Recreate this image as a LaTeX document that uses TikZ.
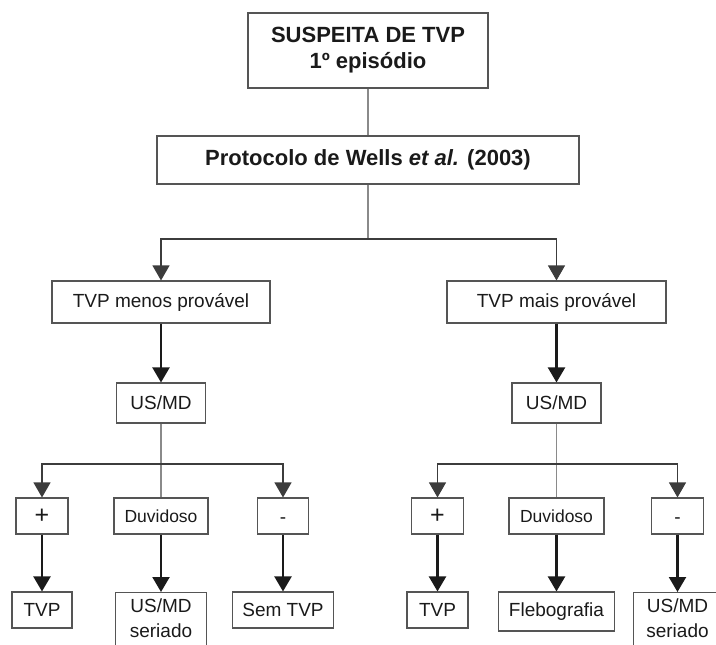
\documentclass[tikz,border=0pt]{standalone}
\usepackage{fontspec}
\setmainfont{Liberation Sans}
\usetikzlibrary{arrows.meta}
\definecolor{boxc}{HTML}{555555}
\definecolor{linec}{HTML}{8a8a8a}
\definecolor{darkc}{HTML}{1a1a1a}
\tikzset{
 box/.style={draw=boxc, line width=1.1pt, inner sep=0pt, align=center, text=darkc, font=\fontsize{19}{23.5}\selectfont},
 titlebox/.style={box, font=\bfseries\fontsize{22}{26}\selectfont},
 smallbox/.style={box, font=\fontsize{17.5}{20}\selectfont},
 serbox/.style={box, anchor=north, inner ysep=6.5pt, font=\fontsize{19}{24.5}\selectfont},
 minusbox/.style={box, text height=14pt, text depth=4pt},
 thinline/.style={draw=linec, line width=1.1pt},
 branch/.style={draw=darkc!85, line width=1.1pt, -{Triangle[width=17pt,length=15pt]}},
 flow/.style={draw=darkc, line width=2.2pt, -{Triangle[width=17pt,length=15pt]}},
}
\begin{document}
\begin{tikzpicture}[x=1pt,y=-1pt]
\useasboundingbox (0,0) rectangle (716,645);
\clip (0,0) rectangle (716,645);
% top
\node[titlebox, minimum width=240pt, minimum height=75pt] (top) at (368,50.5) {SUSPEITA DE TVP\\1º episódio};
\node[titlebox, minimum width=422pt, minimum height=48pt] (proto) at (368,160) {Protocolo de Wells \textit{et al.} (2003)};
% level 2
\node[box, minimum width=218pt, minimum height=42pt] (menos) at (161,302) {TVP menos provável};
\node[box, minimum width=219pt, minimum height=42pt] (mais) at (556.5,302) {TVP mais provável};
\node[box, minimum width=89pt, minimum height=40pt] (usL) at (161,403) {US/MD};
\node[box, minimum width=89pt, minimum height=40pt] (usR) at (556.5,403) {US/MD};
% left results
\node[box, minimum width=52pt, minimum height=36pt, font=\fontsize{25}{25}\selectfont] (plusL) at (42,516) {+};
\node[smallbox, minimum width=94pt, minimum height=36pt] (duvL) at (161,516) {Duvidoso};
\node[minusbox, minimum width=51pt, minimum height=36pt] (minL) at (283,516) {\raisebox{-2pt}{-}};
\node[box, minimum width=60pt, minimum height=36pt] (tvpL) at (42,610) {TVP};
\node[serbox, minimum width=91pt] (serL) at (161,592) {US/MD\\seriado\rule[-14pt]{0pt}{0pt}};
\node[box, minimum width=101pt, minimum height=36pt] (semL) at (283,610) {Sem TVP};
% right results
\node[box, minimum width=52pt, minimum height=36pt, font=\fontsize{25}{25}\selectfont] (plusR) at (437.5,516) {+};
\node[smallbox, minimum width=95pt, minimum height=36pt] (duvR) at (556.5,516) {Duvidoso};
\node[minusbox, minimum width=52pt, minimum height=36pt] (minR) at (677.5,516) {\raisebox{-2pt}{-}};
\node[box, minimum width=61pt, minimum height=36pt] (tvpR) at (437.5,610) {TVP};
\node[box, minimum width=116pt, minimum height=39pt] (fleb) at (556.5,611.5) {Flebografia};
\node[serbox, minimum width=88pt] (serR) at (677.5,592) {US/MD\\seriado\rule[-14pt]{0pt}{0pt}};
% connectors
\coordinate (j1) at (368,239);
\coordinate (j2) at (161,464);
\coordinate (j3) at (556.5,464);
\draw[thinline] (top) -- (proto);
\draw[thinline] (proto) -- (j1);
\draw[branch] (j1) -| (menos);
\draw[branch] (j1) -| (mais);
\draw[flow] (menos) -- (usL);
\draw[flow] (mais) -- (usR);
\draw[thinline] (usL) -- (duvL);
\draw[branch] (j2) -| (plusL);
\draw[branch] (j2) -| (minL);
\draw[thinline] (usR) -- (duvR);
\draw[branch] (j3) -| (plusR);
\draw[branch] (j3) -| (minR);
\draw[flow] (plusL) -- (tvpL);
\draw[flow] (duvL) -- (serL);
\draw[flow] (minL) -- (semL);
\draw[flow] (plusR) -- (tvpR);
\draw[flow] (duvR) -- (fleb);
\draw[flow] (minR) -- (serR);
\end{tikzpicture}
\end{document}
